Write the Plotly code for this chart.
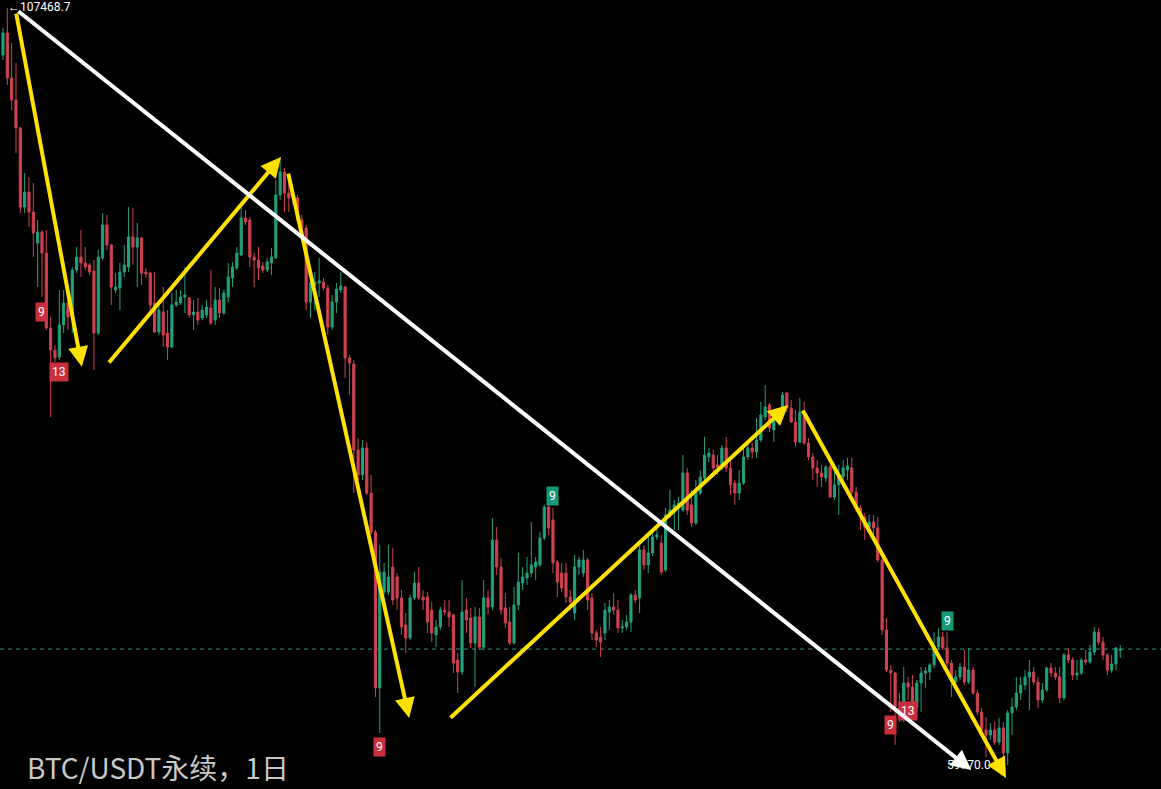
import plotly.graph_objects as go

open_ = [104510,105890,103060,101670,99910,94930,95870,94610,92660,93350,
92030,87310,85920,85480,87500,88880,88000,90960,91780,91400,
91280,90900,86990,91720,93800,92540,89700,89830,90830,91150,
93040,92410,92980,90830,90770,88880,87050,88310,86990,86110,
88760,88880,89260,89200,88130,88310,87940,88130,88570,87810,
89070,88250,89260,90460,91090,91910,94240,94110,91780,91590,
91210,90960,91400,91720,95690,97130,95810,95690,95500,94110,
93610,88940,90020,90140,90200,89830,87370,88940,89700,89890,
85420,85040,79620,78050,79750,76910,74450,64630,70670,70670,
72250,71620,70300,68600,67780,70300,71240,70360,70360,69540,
67970,68470,69540,69410,69230,66390,65630,69540,69040,67460,
69100,67210,70300,69730,73950,72250,69670,68780,67460,69860,
71240,71560,71870,72250,72380,74080,76030,75210,72560,71870,
71870,70360,69350,72250,71870,72690,70300,68090,67840,68090,
69410,69730,69540,68410,68470,68780,70490,70300,73320,72380,
73130,74140,73760,72060,75530,75710,76030,75840,78170,76160,
75020,76910,77860,79180,79310,78680,78680,79750,78490,77540,
76910,77540,79180,79750,79490,80250,81700,82460,80880,81380,
81830,83210,82270,81380,80120,82010,80060,79180,78490,78170,
77860,78550,76660,77420,77920,78360,78490,76970,75970,75400,
74770,75080,74710,72690,68280,65760,65570,63430,62740,64940,
64690,63430,64940,65570,65630,66080,67210,67840,67150,66200,
65000,65320,65950,65000,65760,64310,63110,61980,61670,61980,
61220,62110,60530,63050,63430,64310,64820,65320,65630,65000,
63870,64500,65890,65570,65320,64000,66710,66390,65450,65570,
66390,66260,66890,68150,67520,66710,65760,66140,67000]

high_ = [106210,107468.7,105260,104000,99970,97070,96820,96440,94110,93480,
93480,88000,86240,89700,89700,89070,91150,92410,93480,92410,
91400,91590,92220,94550,94430,92600,90770,91400,92540,94930,
94870,93920,93050,91090,90830,90830,89070,89890,88440,89510,
89700,89700,91150,89260,89070,89200,88760,89070,90960,89890,
89830,89700,91400,91460,92410,94870,94740,94300,92030,92410,
91460,91720,92350,96630,98080,97390,96950,96000,95690,94430,
93800,90650,90830,91720,90460,90020,89390,90140,90830,89950,
85610,85290,80380,80250,80120,78050,74580,73640,72500,73640,
73450,71870,70800,69350,70490,71930,72250,70800,70670,70040,
68910,69730,70170,70170,69300,66830,71430,70300,69670,69730,
69670,71430,70800,75340,74770,72820,70610,69730,70990,73130,
72250,72880,75080,72880,74450,76160,76280,75970,72690,72500,
72500,70800,73010,72880,73320,72820,70610,68280,68470,69980,
70170,70610,70170,68910,69230,70610,70800,73760,73640,74270,
74450,74770,74270,75970,77100,76470,76660,79310,78490,77100,
77730,78360,80440,79750,79620,79310,79940,80440,78990,77730,
78360,79810,80120,80060,81640,82640,83720,82580,81950,82140,
83270,83270,82770,82140,82900,82640,80380,79430,78990,78680,
78680,78680,78360,78680,78990,79120,79120,77290,76160,75650,
75530,75530,75400,72880,69040,66080,65630,64310,65950,65320,
65450,65130,65950,65950,66200,68150,68410,68150,68150,66390,
65760,66200,67020,67150,65950,64500,63370,62800,62420,62480,
62740,62480,63240,64000,65320,65320,65760,66390,65950,65320,
64940,65950,66200,65950,65950,66830,67150,66580,66390,66520,
67020,67340,68470,68410,67840,66830,66710,67210,67340]

low_ = [104190,102620,101040,98330,94550,94550,93670,91780,89890,89260,
87180,81700,85160,85290,86990,87180,86990,90770,90520,90960,
90650,84660,86860,91590,92220,88760,89510,88440,90520,90830,
91280,89890,90020,90460,88250,86990,86860,86110,85290,86050,
88630,88760,88250,87940,87180,87500,87810,87940,87500,87500,
87940,88130,88940,89890,90960,91850,93800,91150,89890,90330,
90770,90830,90650,91650,95370,94610,94610,95060,93980,93480,
88440,87940,88440,89260,89700,86860,87180,88250,89510,84160,
83090,76910,77730,77730,76790,74270,64060,61790,70490,70490,
69860,69540,67970,66830,67650,70170,70170,69540,68090,67520,
67210,68280,69230,68470,65570,64310,65450,68090,67150,64690,
67020,67020,69230,69540,71750,69230,68410,67340,67340,69540,
70800,71120,71620,71430,72250,73950,74270,71870,70360,70670,
69980,69540,68910,71750,71620,69540,67650,67210,66580,67650,
68280,69230,68090,68090,68280,68150,69980,69350,72060,71870,
72940,73950,71750,71930,75340,74580,74580,75710,75530,74770,
74900,76790,77730,78860,78230,78050,78360,78230,76790,76160,
76470,77420,78990,79120,79120,80120,81510,80750,80120,81200,
81640,82010,81320,79810,80060,79940,78990,77730,77290,77290,
77600,76600,76470,75530,77730,77730,76790,75710,74580,73950,
74580,74270,72560,67970,65630,63110,61040,62480,62480,63870,
62740,63110,63110,64630,65130,65890,67020,67020,65950,64060,
64820,65130,64820,64880,64190,62930,61790,60280,61350,61040,
61040,60090,59770,61670,63240,63870,64500,63240,64820,63370,
63680,64370,65320,65130,63680,63870,66200,65130,65130,65450,
66080,66140,66710,67340,66390,65450,65570,65760,66520]

close_ = [105890,103060,101670,99910,94930,95870,94610,93290,93350,92030,
87310,85920,85420,87500,88880,88000,90960,91780,91400,91150,
90830,86990,91780,93800,92540,89890,89890,90830,91280,93040,
92410,92980,90770,90710,88760,87050,88440,86860,86110,88760,
88940,89260,89390,88130,88310,87810,88440,88630,87620,89070,
88250,89510,90520,91150,92030,94240,93980,91780,91590,91090,
90960,91460,91780,95690,97130,95810,95500,95560,94110,93610,
88940,90140,90200,90270,89830,87370,88940,89760,89950,85420,
85100,79620,78050,79750,76910,74450,64630,71930,71930,71620,
70170,70300,68470,67780,70300,71240,70300,70170,68780,68090,
68470,69540,69410,69100,66200,65630,69410,68910,67460,69100,
67210,70300,69730,73950,72250,69540,68720,67460,69860,71300,
71620,71870,72380,72560,74080,76030,74710,72500,71300,70930,
70360,70040,72250,72690,72690,70170,68090,67650,67520,69540,
69730,69540,68410,68470,68780,70490,70170,73320,72380,73130,
74140,74270,71930,75530,75840,76160,76280,78170,75840,75020,
76910,77920,79310,79430,78490,78550,79750,78490,77420,76910,
77540,79180,79750,79490,80250,81830,82330,81010,81510,81700,
83090,82270,81380,80120,82010,80060,79180,78490,78170,77920,
78550,76660,77420,77920,78490,78610,76970,75970,75400,74770,
75080,74710,72690,68280,65760,65570,63430,62740,64940,64690,
63430,64940,65570,65700,66080,67210,67840,67150,66200,65130,
65320,65950,65000,65760,64310,63110,61980,61670,61980,61220,
62110,60530,63050,63430,64310,64820,65320,65630,65000,63870,
64500,65890,65570,65320,64000,66710,66390,65450,65570,66390,
66260,66890,68150,67520,66710,65760,66140,67150,67080]

day_index = list(range(len(close_)))

# hand-drawn trend arrows: (start day, start price, end day, end price)
yellow_arrows = [
    (3.0, 107210, 18.2, 84870),
    (24.2, 85040, 64.2, 98080),
    (65.8, 97130, 93.8, 62740),
    (103.0, 62670, 181.3, 82460),
    (184.5, 82200, 231.6, 58960),
]
white_arrow = (3.2, 107340, 223.6, 59460)

# TD sequential labels: (day, text, side, pixel offset)
td_labels = [
    (9, "9", "low", -15),
    (13, "13", "low", -12),
    (87, "9", "low", -14),
    (127, "9", "high", 12),
    (205, "9", "low", -13),
    (209, "13", "low", -11),
    (218, "9", "high", 11),
]

high_label = "←107468.7"
low_label = "59770.0 →"
title_text = "BTC/USDT永续，1日"

UP = "#22a07c"
DOWN = "#cf4250"

fig = go.Figure()
fig.add_trace(go.Candlestick(
    x=day_index, open=open_, high=high_, low=low_, close=close_,
    increasing=dict(line=dict(color=UP, width=1), fillcolor=UP),
    decreasing=dict(line=dict(color=DOWN, width=1), fillcolor=DOWN),
    whiskerwidth=0, hoverinfo="skip", showlegend=False,
))

ann = []
# TD labels
for d, t, side, off in td_labels:
    yv = low_[d] if side == "low" else high_[d]
    col = "#c9303c" if side == "low" else "#159a78"
    ann.append(dict(x=d, y=yv, xref="x", yref="y", text=t, showarrow=False,
                    yshift=off, bgcolor=col, borderpad=2,
                    font=dict(family="Roboto, Arial", size=12, color="#ffffff")))

# high / low labels
imax = high_.index(max(high_))
imin = low_.index(min(low_))
ann.append(dict(x=imax, y=max(high_), xref="x", yref="y", text=high_label,
                showarrow=False, xanchor="left", xshift=-1, yshift=1,
                font=dict(family="Roboto, Arial", size=12, color="#ffffff")))
ann.append(dict(x=imin, y=min(low_), xref="x", yref="y", text=low_label,
                showarrow=False, xanchor="right", xshift=0,
                font=dict(family="Roboto, Arial", size=12, color="#ffffff")))

# arrows
for (x0, y0, x1, y1) in yellow_arrows:
    ann.append(dict(x=x1, y=y1, ax=x0, ay=y0, xref="x", yref="y",
                    axref="x", ayref="y", showarrow=True, arrowhead=2,
                    arrowsize=1, arrowwidth=4, arrowcolor="#ffe100",
                    standoff=0, text=""))
x0, y0, x1, y1 = white_arrow
ann.append(dict(x=x1, y=y1, ax=x0, ay=y0, xref="x", yref="y",
                axref="x", ayref="y", showarrow=True, arrowhead=2,
                arrowsize=1, arrowwidth=4, arrowcolor="#ffffff",
                standoff=0, text=""))

# watermark title
ann.append(dict(x=25 / 1161, y=0, xref="paper", yref="paper", text=title_text,
                showarrow=False, xanchor="left", yanchor="bottom", yshift=0,
                font=dict(family="Noto Sans CJK SC", size=28, color="#c8c8c8")))

fig.update_layout(
    width=1161, height=789,
    margin=dict(l=0, r=0, t=0, b=0),
    paper_bgcolor="#000000", plot_bgcolor="#000000",
    showlegend=False,
    annotations=ann,
    shapes=[dict(type="line", xref="paper", x0=0, x1=1, yref="y",
                 y0=close_[-1], y1=close_[-1],
                 line=dict(color="#2e9b7d", width=1, dash="4px,4px"),
                 layer="below")],
    xaxis=dict(range=[-0.693, 267.4], visible=False, rangeslider=dict(visible=False),
               showgrid=False, zeroline=False),
    yaxis=dict(range=[58263, 107970], visible=False, showgrid=False, zeroline=False),
)

fig.write_html("out.html", config={"displayModeBar": False})
